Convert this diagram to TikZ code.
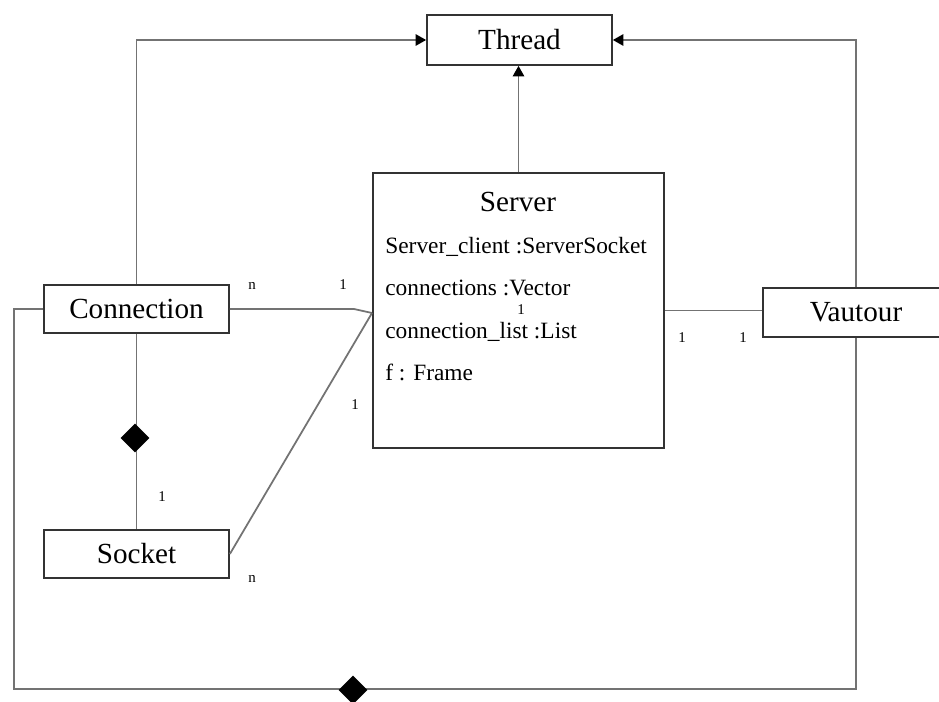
\documentclass[tikz,border=0pt]{standalone}
\usepackage{fontspec}
\setmainfont{Liberation Serif}
\usetikzlibrary{arrows.meta,shapes.geometric}
\begin{document}
\begin{tikzpicture}[x=0.02cm,y=-0.02cm,
  cls/.style={draw=black!80,line width=1pt,inner sep=0pt,fill=white,
    font=\fontsize{16.6}{18}\selectfont},
  conn/.style={draw=black!55,line width=1pt},
  inh/.style={conn,-{Triangle[length=6pt,width=6.5pt,fill=black,color=black]}},
  attr/.style={anchor=west,inner sep=0pt,font=\fontsize{13.3}{15}\selectfont},
  mult/.style={inner sep=0pt,font=\fontsize{8.5}{10}\selectfont},
  comp/.style={diamond,fill=black,inner sep=0pt,minimum width=0.58cm,minimum height=0.58cm}]
\useasboundingbox (0,0) rectangle (939,702);
\clip (0,0) rectangle (939,702);
% class boxes
\node[cls,minimum width=3.7cm,minimum height=1.0cm] (thr) at (519.5,40) {Thread};
\node[cls,minimum width=5.82cm,minimum height=5.5cm] (srv) at (518.5,310.5) {};
\node[cls,minimum width=3.7cm,minimum height=0.96cm] (con) at (136.5,309) {Connection};
\node[cls,minimum width=3.7cm,minimum height=0.96cm] (soc) at (136.5,554) {Socket};
\node[cls,minimum width=3.72cm,minimum height=0.98cm] (vau) at (856,312.5) {Vautour};
% server contents
\node[inner sep=0pt,font=\fontsize{16.6}{18}\selectfont] (stitle) at (518,202) {Server};
\node[attr] (a1) at (385,247) {Server\_client :ServerSocket};
\node[attr] (a2) at (385,288) {connections :Vector};
\node[attr] (a3) at (385,332) {connection\_list :List};
\node[attr] (a4) at (385,372) {f : Frame};
% inheritance arrows
\draw[inh] (srv.north) -- (srv.north |- thr.south);
\draw[inh] (con.north) |- (thr.west);
\draw[inh] (vau.north) |- (thr.east);
% associations
\coordinate (sj) at (372,313);
\coordinate (sb) at (354,309);
\draw[conn] (con.east) -- (sb) -- (sj);
\draw[conn] (soc.east) -- (sj);
\draw[conn] (srv.east) -- (srv.east -| vau.west);
% composition Connection - Socket
\draw[conn] (con.south) -- (soc.north);
\node[comp] (d1) at (135,438) {};
% outer composition loop
\coordinate (lb) at (14,689);
\draw[conn] (con.west) -| (lb) -| (vau.south);
\node[comp] (d2) at (353,690) {};
% multiplicities
\node[mult] (m1) at (252,286) {n};
\node[mult] (m2) at (343,285) {1};
\node[mult] (m3) at (355,405) {1};
\node[mult] (m4) at (252,579) {n};
\node[mult] (m5) at (162,497) {1};
\node[mult] (m6) at (682,338) {1};
\node[mult] (m7) at (743,338) {1};
\node[mult] (m8) at (521,310) {1};
\end{tikzpicture}
\end{document}
